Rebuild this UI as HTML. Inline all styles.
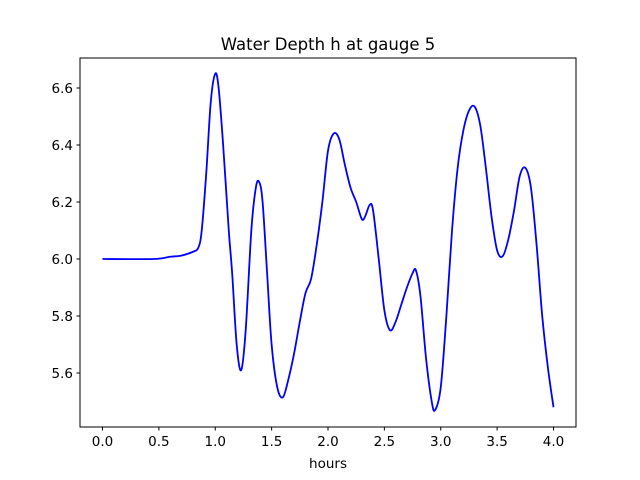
<!DOCTYPE html>
<html><head><meta charset="utf-8"><style>
body{margin:0;background:#fff}
svg{display:block;font-family:"DejaVu Sans","Liberation Sans",sans-serif}
</style></head><body>
<svg id="chart" width="640" height="480">
<rect x="0" y="0" width="640" height="480" fill="#fff"/>
<g id="plot"></g>
<rect x="80" y="58" width="496" height="369" fill="none" stroke="#000" stroke-width="1"/>
<text x="328" y="50" text-anchor="middle" font-size="16.5">Water Depth h at gauge 5</text>
<text x="328" y="468" text-anchor="middle" font-size="13.5">hours</text>
<g id="xticks"></g><g id="yticks"></g>
</svg>
<script>
const xs=[0,0.45,0.6,0.7,0.8,0.85,0.88,0.92,0.96,1.0,1.03,1.07,1.12,1.15,1.19,1.23,1.27,1.32,1.36,1.39,1.42,1.46,1.5,1.55,1.6,1.65,1.7,1.75,1.8,1.85,1.9,1.95,2.0,2.05,2.1,2.15,2.2,2.25,2.3,2.33,2.37,2.4,2.45,2.5,2.55,2.6,2.65,2.7,2.75,2.78,2.82,2.87,2.92,2.95,3.0,3.05,3.1,3.15,3.2,3.25,3.3,3.35,3.4,3.45,3.5,3.55,3.6,3.65,3.7,3.75,3.8,3.85,3.9,3.95,4.0];
const ys=[6.0,6.0,6.008,6.012,6.025,6.04,6.1,6.3,6.55,6.65,6.6,6.4,6.1,5.95,5.7,5.61,5.75,6.1,6.25,6.27,6.2,5.95,5.7,5.55,5.515,5.58,5.67,5.78,5.88,5.93,6.05,6.2,6.38,6.44,6.42,6.33,6.25,6.2,6.14,6.15,6.19,6.17,6.0,5.82,5.75,5.78,5.84,5.9,5.95,5.96,5.87,5.65,5.5,5.47,5.55,5.8,6.1,6.32,6.45,6.52,6.535,6.47,6.32,6.15,6.03,6.01,6.07,6.17,6.29,6.32,6.25,6.05,5.8,5.62,5.48];
const xTicks=[0,0.5,1,1.5,2,2.5,3,3.5,4];
const xTickLabels=["0.0","0.5","1.0","1.5","2.0","2.5","3.0","3.5","4.0"];
const yTicks=[5.6,5.8,6.0,6.2,6.4,6.6];
const yTickLabels=["5.6","5.8","6.0","6.2","6.4","6.6"];
const X=v=>102.5+v*112.75;
const Y=v=>259-(v-6)*285;
const NS="http://www.w3.org/2000/svg";
function mk(t,a,p){const e=document.createElementNS(NS,t);for(const k in a)e.setAttribute(k,a[k]);p.appendChild(e);return e;}
const pts=xs.map((x,i)=>[X(x),Y(ys[i])]);
let d="M"+pts[0][0]+","+pts[0][1];
for(let i=0;i<pts.length-1;i++){
 const p0=pts[Math.max(0,i-1)],p1=pts[i],p2=pts[i+1],p3=pts[Math.min(pts.length-1,i+2)];
 const c1=[p1[0]+(p2[0]-p0[0])/6,p1[1]+(p2[1]-p0[1])/6],c2=[p2[0]-(p3[0]-p1[0])/6,p2[1]-(p3[1]-p1[1])/6];
 d+=" C"+c1.join(",")+" "+c2.join(",")+" "+p2.join(",");
}
const line=mk("path",{d:d,fill:"none",stroke:"#0000ff","stroke-width":1.8},document.getElementById("plot"));


const gx=document.getElementById("xticks");
xTicks.forEach((v,i)=>{
 const t=mk("line",{x1:X(v),x2:X(v),y1:427,y2:430.5,stroke:"#000"},gx);
 
 
 const l=mk("text",{x:X(v),y:446,"text-anchor":"middle","font-size":"13.5"},gx);
 l.textContent=xTickLabels[i];
 
 
});
const gy=document.getElementById("yticks");
yTicks.forEach((v,i)=>{
 const t=mk("line",{x1:76.5,x2:80,y1:Y(v),y2:Y(v),stroke:"#000"},gy);
 
 
 const l=mk("text",{x:73,y:Y(v)+5,"text-anchor":"end","font-size":"13.5"},gy);
 l.textContent=yTickLabels[i];
 
 
});
</script>
</body></html>
